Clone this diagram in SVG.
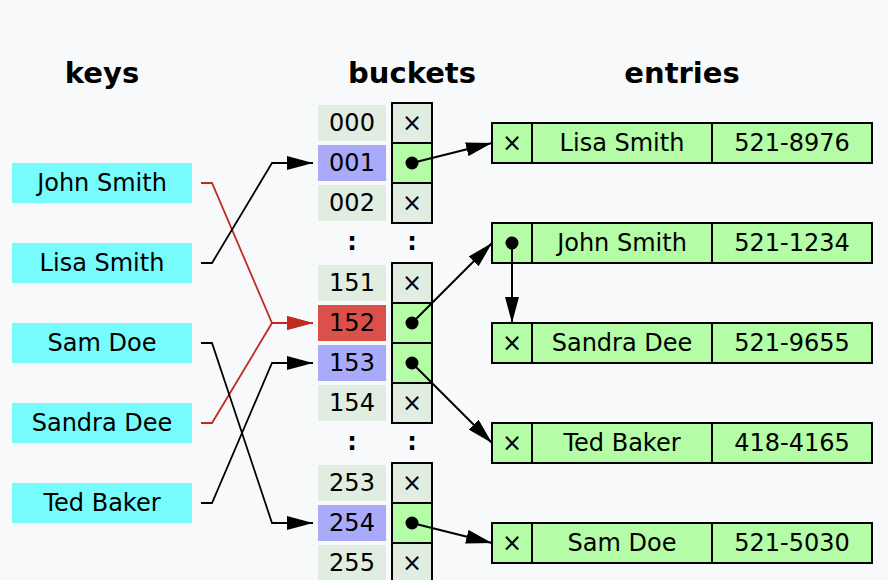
<svg xmlns="http://www.w3.org/2000/svg" width="888" height="580" viewBox="0 0 888 580">
<style>
text{font-family:"DejaVu Sans","Liberation Sans",sans-serif;font-size:24px;fill:#000;text-anchor:middle}
.h{font-weight:bold;font-size:29px}
.col{font-weight:bold}
.key{fill:#76fcfd}
.lab{fill:#e0ede0}
.hit{fill:#aaaafa}
.red{fill:#dc504b}
.slot{stroke:#000;stroke-width:2}
.e{fill:#e0ede0}
.g{fill:#b4fca5}
.ent{fill:#b4fca5;stroke:#000;stroke-width:2}
.ln{fill:none;stroke:#000;stroke-width:2}
.kl{fill:none;stroke:#000;stroke-width:1.8;marker-end:url(#ab)}
.kr{fill:none;stroke:#c12a1e;stroke-width:1.8;marker-end:url(#ar)}
.pt{fill:none;stroke:#000;stroke-width:2;marker-end:url(#ab)}
</style>
<defs>
<marker id="ab" markerUnits="userSpaceOnUse" viewBox="0 0 26 14" refX="26" refY="7" markerWidth="26" markerHeight="14" orient="auto"><path d="M0,0 L26,7 L0,14 z" fill="#000"/></marker>
<marker id="ar" markerUnits="userSpaceOnUse" viewBox="0 0 26 14" refX="26" refY="7" markerWidth="26" markerHeight="14" orient="auto"><path d="M0,0 L26,7 L0,14 z" fill="#c12a1e"/></marker>
</defs>
<rect width="888" height="580" fill="#f8f9fb"/>
<g id="headers">
<text class="h" x="102" y="83">keys</text>
<text class="h" x="412" y="83">buckets</text>
<text class="h" x="682" y="83">entries</text>
</g>
<g id="keys">
<g id="key-john"><rect class="key" x="12" y="163" width="180" height="40"/><text x="102" y="191">John Smith</text></g>
<g id="key-lisa"><rect class="key" x="12" y="243" width="180" height="40"/><text x="102" y="271">Lisa Smith</text></g>
<g id="key-sam"><rect class="key" x="12" y="323" width="180" height="40"/><text x="102" y="351">Sam Doe</text></g>
<g id="key-sandra"><rect class="key" x="12" y="403" width="180" height="40"/><text x="102" y="431">Sandra Dee</text></g>
<g id="key-ted"><rect class="key" x="12" y="483" width="180" height="40"/><text x="102" y="511">Ted Baker</text></g>
</g>
<g id="buckets">
<g id="bucket-000"><rect class="lab" x="318" y="105" width="68" height="36"/><text x="352" y="131">000</text><rect class="slot e" x="392" y="103" width="40" height="40"/><text x="412" y="131">×</text></g>
<g id="bucket-001"><rect class="hit" x="318" y="145" width="68" height="36"/><text x="352" y="171">001</text><rect class="slot g" x="392" y="143" width="40" height="40"/><circle cx="412" cy="163" r="6.5"/></g>
<g id="bucket-002"><rect class="lab" x="318" y="185" width="68" height="36"/><text x="352" y="211">002</text><rect class="slot e" x="392" y="183" width="40" height="40"/><text x="412" y="211">×</text></g>
<g id="gap1"><text class="col" x="352" y="250">:</text><text class="col" x="412" y="250">:</text></g>
<g id="bucket-151"><rect class="lab" x="318" y="265" width="68" height="36"/><text x="352" y="291">151</text><rect class="slot e" x="392" y="263" width="40" height="40"/><text x="412" y="291">×</text></g>
<g id="bucket-152"><rect class="red" x="318" y="305" width="68" height="36"/><text x="352" y="331">152</text><rect class="slot g" x="392" y="303" width="40" height="40"/><circle cx="412" cy="323" r="6.5"/></g>
<g id="bucket-153"><rect class="hit" x="318" y="345" width="68" height="36"/><text x="352" y="371">153</text><rect class="slot g" x="392" y="343" width="40" height="40"/><circle cx="412" cy="363" r="6.5"/></g>
<g id="bucket-154"><rect class="lab" x="318" y="385" width="68" height="36"/><text x="352" y="411">154</text><rect class="slot e" x="392" y="383" width="40" height="40"/><text x="412" y="411">×</text></g>
<g id="gap2"><text class="col" x="352" y="450">:</text><text class="col" x="412" y="450">:</text></g>
<g id="bucket-253"><rect class="lab" x="318" y="465" width="68" height="36"/><text x="352" y="491">253</text><rect class="slot e" x="392" y="463" width="40" height="40"/><text x="412" y="491">×</text></g>
<g id="bucket-254"><rect class="hit" x="318" y="505" width="68" height="36"/><text x="352" y="531">254</text><rect class="slot g" x="392" y="503" width="40" height="40"/><circle cx="412" cy="523" r="6.5"/></g>
<g id="bucket-255"><rect class="lab" x="318" y="545" width="68" height="36"/><text x="352" y="571">255</text><rect class="slot e" x="392" y="543" width="40" height="40"/><text x="412" y="571">×</text></g>
</g>
<g id="entries">
<g id="entry-lisa"><rect class="ent" x="492" y="123" width="380" height="40"/><path class="ln" d="M532,123V163M712,123V163"/><text x="512" y="151">×</text><text x="622" y="151">Lisa Smith</text><text x="792" y="151">521-8976</text></g>
<g id="entry-john"><rect class="ent" x="492" y="223" width="380" height="40"/><path class="ln" d="M532,223V263M712,223V263"/><circle cx="512" cy="243" r="6.5"/><text x="622" y="251">John Smith</text><text x="792" y="251">521-1234</text></g>
<g id="entry-sandra"><rect class="ent" x="492" y="323" width="380" height="40"/><path class="ln" d="M532,323V363M712,323V363"/><text x="512" y="351">×</text><text x="622" y="351">Sandra Dee</text><text x="792" y="351">521-9655</text></g>
<g id="entry-ted"><rect class="ent" x="492" y="423" width="380" height="40"/><path class="ln" d="M532,423V463M712,423V463"/><text x="512" y="451">×</text><text x="622" y="451">Ted Baker</text><text x="792" y="451">418-4165</text></g>
<g id="entry-sam"><rect class="ent" x="492" y="523" width="380" height="40"/><path class="ln" d="M532,523V563M712,523V563"/><text x="512" y="551">×</text><text x="622" y="551">Sam Doe</text><text x="792" y="551">521-5030</text></g>
</g>
<g id="connectors">
<path class="kr" d="M201,183H212L272,323H313"/>
<path class="kr" d="M201,423H212L272,323H313"/>
<path class="kl" d="M201,263H212L272,163H313"/>
<path class="kl" d="M201,343H212L272,523H313"/>
<path class="kl" d="M201,503H212L272,363H313"/>
<path class="pt" d="M412,163L492,143"/>
<path class="pt" d="M412,323L492,243"/>
<path class="pt" d="M412,363L492,443"/>
<path class="pt" d="M412,523L492,543"/>
<path class="pt" d="M512,243L512,323"/>
</g>
</svg>
